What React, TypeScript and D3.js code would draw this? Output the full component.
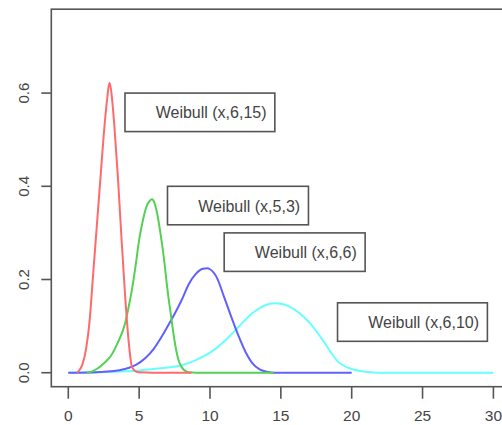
import React from "react";
import * as d3 from "d3";

// ---- data ----
const redX = [0.6, 0.75, 1.0, 1.25, 1.5, 1.75, 2.0, 2.25, 2.5, 2.75, 2.9, 3.0, 3.25, 3.5, 3.75, 4.0, 4.25, 4.5, 4.75, 5.0, 6.0, 8.7];
const redY = [0, 0.004, 0.018, 0.05, 0.11, 0.21, 0.31, 0.41, 0.51, 0.59, 0.622, 0.61, 0.53, 0.42, 0.29, 0.17, 0.07, 0.012, 0.003, 0.001, 0, 0];

const greenX = [1.3, 1.5, 2.0, 2.5, 3.0, 3.5, 4.0, 4.25, 4.5, 4.75, 5.0, 5.25, 5.5, 5.75, 5.9, 6.0, 6.25, 6.5, 6.75, 7.0, 7.25, 7.5, 7.75, 8.0, 8.25, 8.5, 9.0, 14.5];
const greenY = [0, 0.001, 0.008, 0.02, 0.036, 0.065, 0.105, 0.14, 0.18, 0.23, 0.285, 0.325, 0.355, 0.369, 0.372, 0.37, 0.345, 0.3, 0.245, 0.178, 0.122, 0.068, 0.03, 0.012, 0.004, 0.001, 0, 0];

const blueX = [0, 2, 3, 4, 4.5, 5, 5.5, 6, 6.5, 7, 7.5, 8, 8.5, 9, 9.5, 9.8, 10, 10.5, 11, 11.5, 12, 12.5, 13, 13.5, 14, 14.5, 20];
const blueY = [0, 0.001, 0.003, 0.008, 0.013, 0.021, 0.033, 0.05, 0.073, 0.099, 0.126, 0.156, 0.19, 0.212, 0.223, 0.224, 0.222, 0.203, 0.162, 0.12, 0.08, 0.045, 0.02, 0.007, 0.002, 0, 0];

const cyanX = [0, 2, 4, 5, 6, 7, 8, 9, 10, 11, 12, 13, 14, 14.6, 15, 16, 17, 18, 18.5, 19, 20, 21, 22, 30];
const cyanY = [0, 0.001, 0.003, 0.005, 0.008, 0.011, 0.016, 0.027, 0.043, 0.067, 0.098, 0.128, 0.146, 0.149, 0.148, 0.135, 0.108, 0.068, 0.045, 0.025, 0.008, 0.002, 0, 0];

const seriesNames = ["red", "green", "blue", "cyan"];
const seriesColors = ["#ff6a6a", "#55d055", "#6060ff", "#66ffff"];

const labelTexts = ["Weibull (x,6,15)", "Weibull (x,5,3)", "Weibull (x,6,6)", "Weibull (x,6,10)"];
const labelX = [4, 7, 11, 19];
const labelY = [0.6, 0.4, 0.3, 0.15];

const xTicks = [0, 5, 10, 15, 20, 25, 30];
const yTicks = [0.0, 0.2, 0.4, 0.6];

const W = 502;
const H = 425;
const FONT = "'Liberation Sans', Arial, sans-serif";

function measure(text: string, size: number): number {
  const c = document.createElement("canvas").getContext("2d");
  if (!c) return text.length * size * 0.45;
  c.font = `${size}px ${FONT}`;
  return c.measureText(text).width;
}

export default function App() {
  const x = d3.scaleLinear().domain([-1.2, 31.2]).range([51.3, 510.4]);
  const y = d3.scaleLinear().domain([-0.03, 0.78]).range([386.7, 9.2]);

  const xs = [redX, greenX, blueX, cyanX];
  const ys = [redY, greenY, blueY, cyanY];

  const line = d3
    .line<[number, number]>()
    .x((d) => x(d[0]))
    .y((d) => y(d[1]))
    .curve(d3.curveMonotoneX);

  const axisColor = "#555";
  const textColor = "#444";
  const labelSize = 16;

  // draw cyan first, red last
  const order = [3, 2, 1, 0];

  return (
    <div style={{ position: "fixed", left: 0, top: 0, width: W, height: H, background: "#fff" }}>
      <svg width={W} height={H} style={{ display: "block" }}>
        <rect x={0} y={0} width={W} height={H} fill="#fff" />
        {/* curves */}
        {order.map((i) => {
          const pts: [number, number][] = xs[i].map((v, j) => [v, ys[i][j]]);
          return (
            <path key={seriesNames[i]} d={line(pts) || ""} fill="none" stroke={seriesColors[i]} strokeWidth={2} strokeLinejoin="round" />
          );
        })}
        {/* frame */}
        <rect
          x={x(-1.2)}
          y={y(0.78)}
          width={x(31.2) - x(-1.2)}
          height={y(-0.03) - y(0.78)}
          fill="none"
          stroke={axisColor}
          strokeWidth={1.6}
        />
        {/* x axis */}
        {xTicks.map((t) => (
          <g key={"xt" + t}>
            <line x1={x(t)} x2={x(t)} y1={y(-0.03)} y2={y(-0.03) + 12} stroke={axisColor} strokeWidth={1.6} />
            <text x={x(t)} y={420.5} textAnchor="middle" fontFamily={FONT} fontSize={15.5} fill={textColor}>
              {t}
            </text>
          </g>
        ))}
        {/* y axis */}
        {yTicks.map((t) => (
          <g key={"yt" + t}>
            <line x1={x(-1.2)} x2={x(-1.2) - 10} y1={y(t)} y2={y(t)} stroke={axisColor} strokeWidth={1.6} />
            <text
              transform={`translate(${29},${y(t)}) rotate(-90)`}
              textAnchor="middle"
              fontFamily={FONT}
              fontSize={15}
              fill={textColor}
            >
              {t.toFixed(1)}
            </text>
          </g>
        ))}
        {/* legends / labels */}
        {labelTexts.map((txt, i) => {
          const tw = measure(txt, labelSize);
          const bx = x(labelX[i]);
          const by = y(labelY[i]);
          const bw = tw + 39;
          const bh = 38.5;
          return (
            <g key={"lab" + i}>
              <rect x={bx} y={by} width={bw} height={bh} fill="#fff" stroke={axisColor} strokeWidth={1.6} />
              <text
                x={bx + bw - 8.3}
                y={by + bh / 2 + 6}
                textAnchor="end"
                fontFamily={FONT}
                fontSize={labelSize}
                fill={textColor}
              >
                {txt}
              </text>
            </g>
          );
        })}
      </svg>
    </div>
  );
}
